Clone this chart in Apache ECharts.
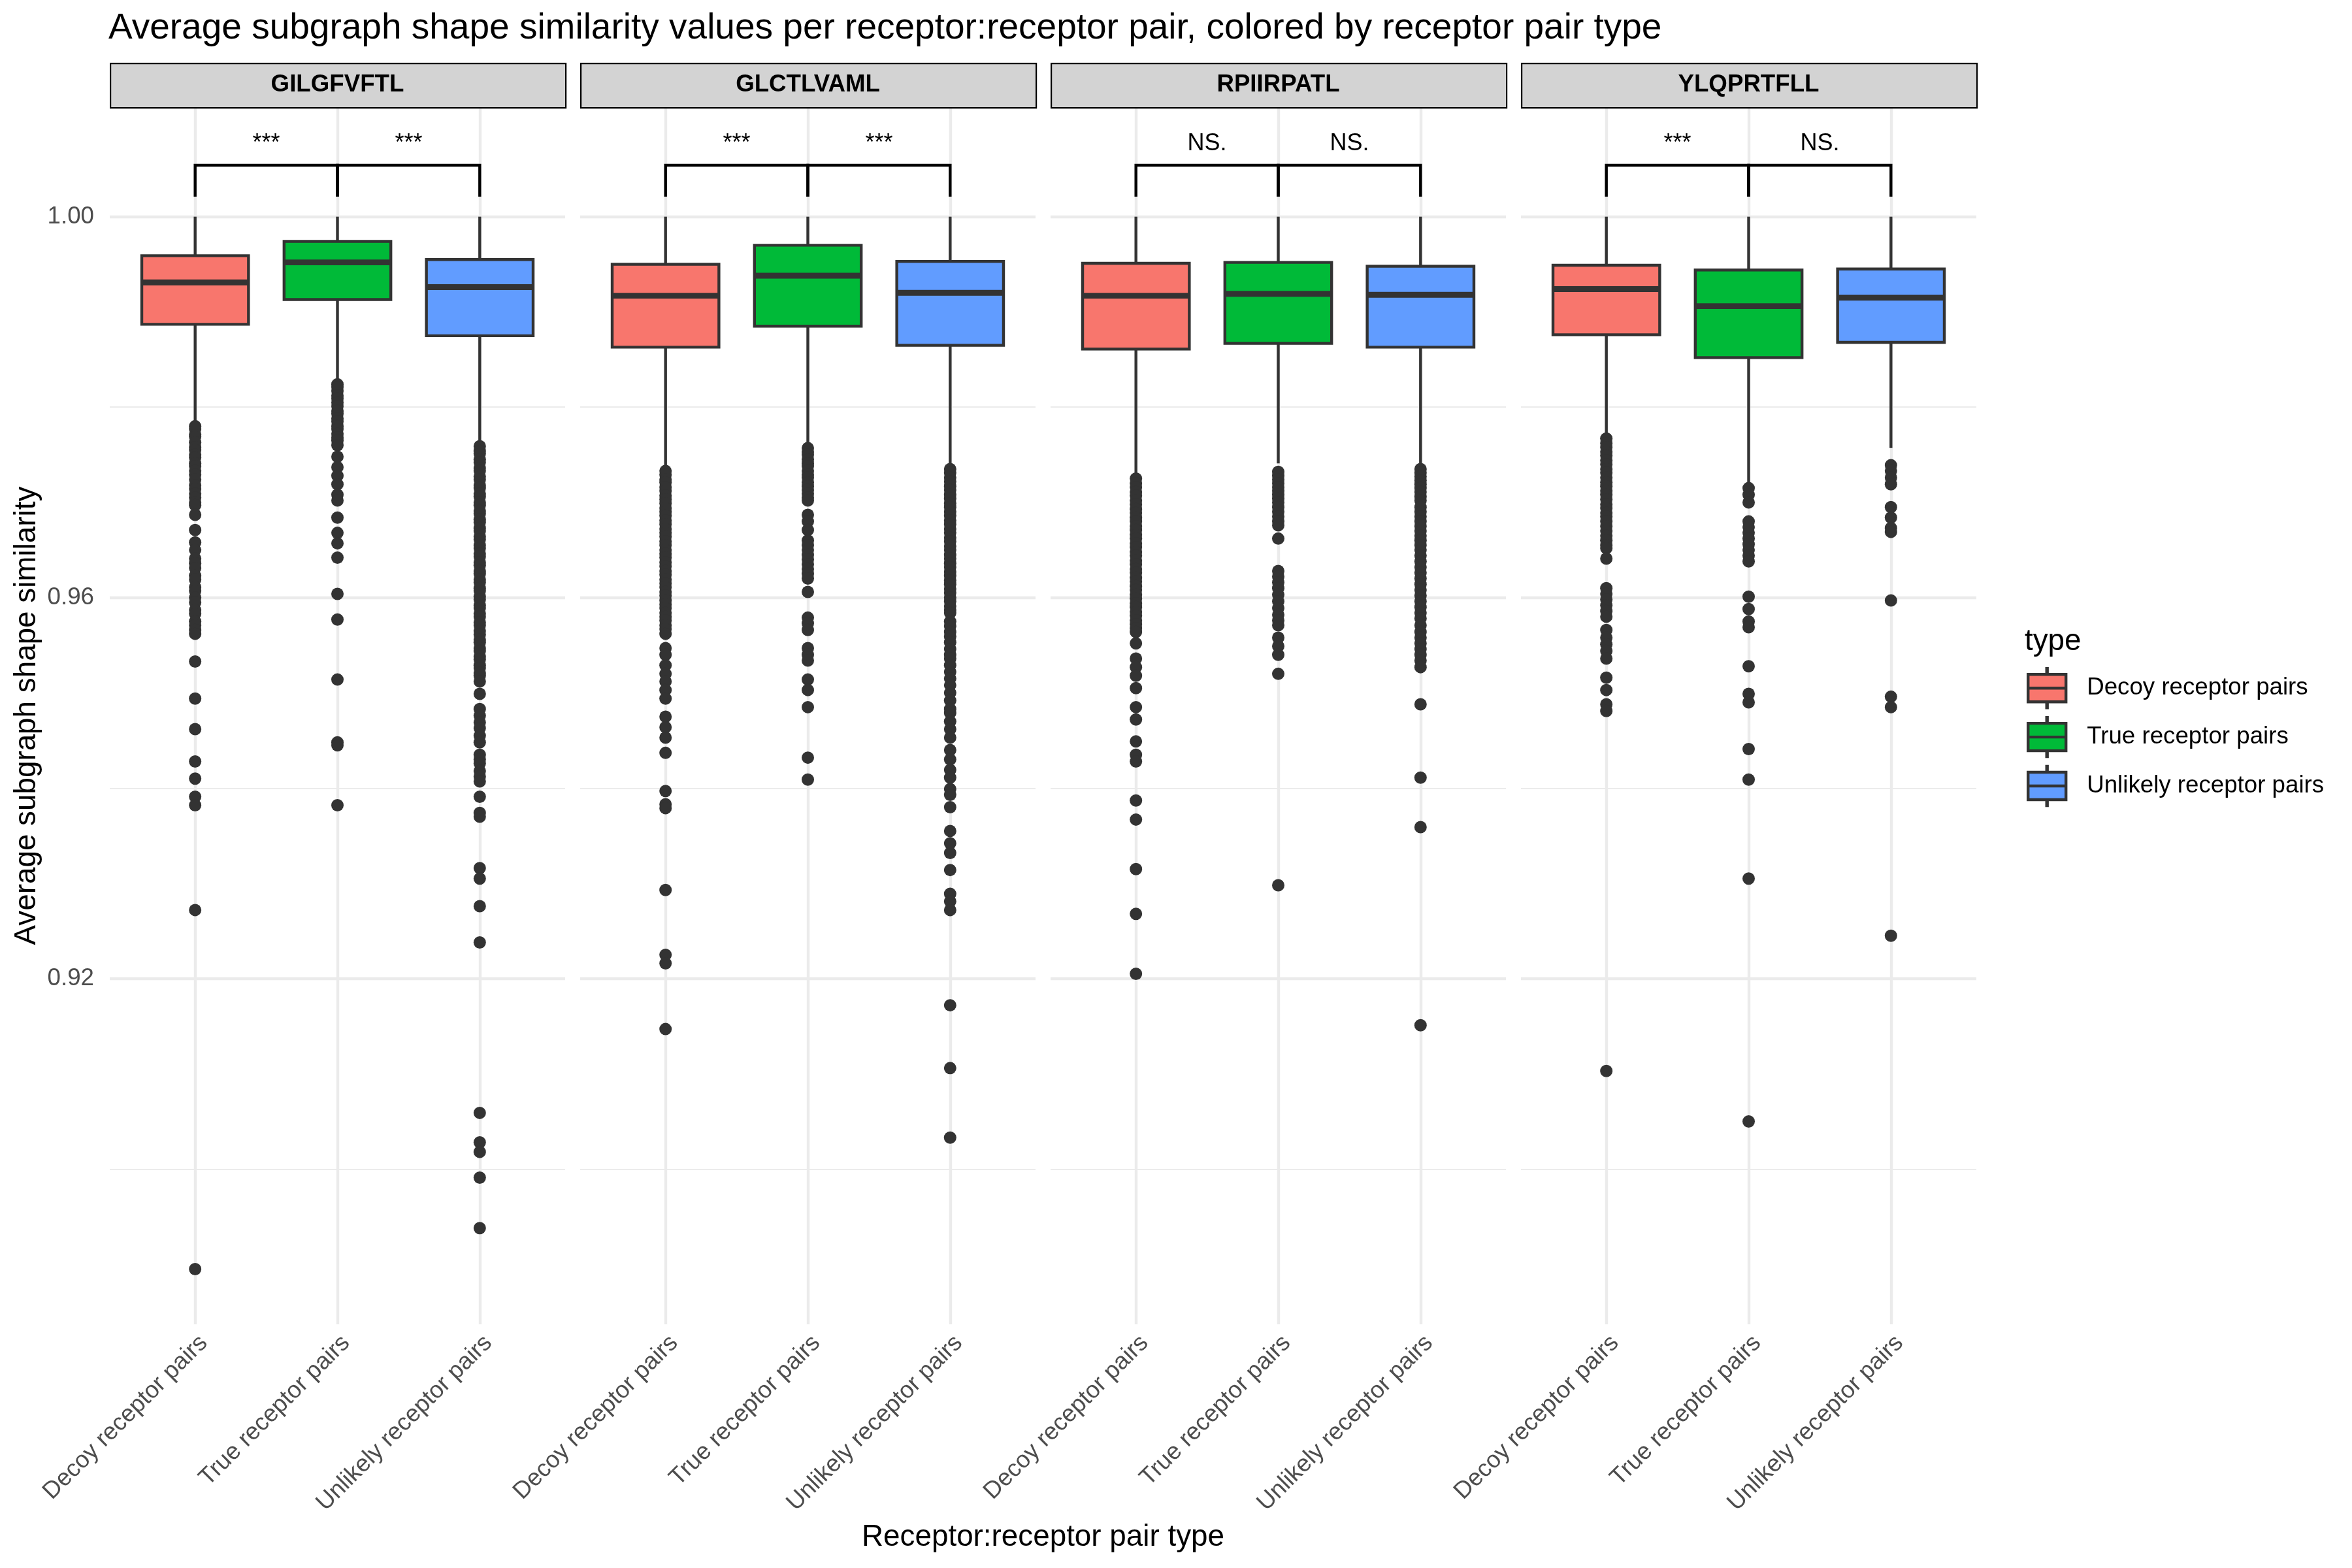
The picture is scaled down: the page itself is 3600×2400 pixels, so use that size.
<!DOCTYPE html>
<html>
<head>
<meta charset="utf-8">
<script src="https://cdn.jsdelivr.net/npm/echarts@6/dist/echarts.min.js"></script>
<style>html,body{margin:0;padding:0;background:#ffffff}#chart{width:3600px;height:2400px}</style>
</head>
<body>
<div id="chart"></div>
<script>
// ---------------- DATA ----------------
const PANELS = ['GILGFVFTL', 'GLCTLVAML', 'RPIIRPATL', 'YLQPRTFLL'];
const TYPES = ['Decoy receptor pairs', 'True receptor pairs', 'Unlikely receptor pairs'];
const Y_TICKS = [0.92, 0.96, 1.00];
const Y_MINOR = [0.90, 0.94, 0.98];

// box stats per type: [lower whisker, Q1, median, Q3, upper whisker]
const BOX_GILGFVFTL = [[0.9785, 0.9887, 0.9931, 0.9959, 1.0], [0.9826, 0.9913, 0.9952, 0.9974, 1.0], [0.9761, 0.9875, 0.9926, 0.9955, 1.0]];
const BOX_GLCTLVAML = [[0.9737, 0.9863, 0.9917, 0.9950, 1.0], [0.9761, 0.9885, 0.9938, 0.9970, 1.0], [0.9738, 0.9865, 0.9920, 0.9953, 1.0]];
const BOX_RPIIRPATL = [[0.9730, 0.9861, 0.9917, 0.9951, 1.0], [0.9741, 0.9867, 0.9919, 0.9952, 1.0], [0.9739, 0.9863, 0.9918, 0.9948, 1.0]];
const BOX_YLQPRTFLL = [[0.9772, 0.9876, 0.9924, 0.9949, 1.0], [0.9719, 0.9852, 0.9906, 0.9944, 1.0], [0.9757, 0.9868, 0.9915, 0.9945, 1.0]];

// outliers
const OUT_GILGFVFTL_DECOY = [0.9780,0.9777,0.9771,0.9769,0.9763,0.9758,0.9755,0.9750,0.9747,0.9741,0.9738,0.9733,0.9729,0.9724,0.9718,0.9714,0.9709,0.9705,0.9700,0.9697,0.9687,0.9671,0.9658,0.9650,0.9641,0.9636,0.9631,0.9623,0.9619,0.9611,0.9607,0.9600,0.9595,0.9587,0.9583,0.9575,0.9571,0.9566,0.9562,0.9533,0.9494,0.9462,0.9428,0.9410,0.9391,0.9382,0.9272,0.8895];
const OUT_GILGFVFTL_TRUE = [0.9824,0.9821,0.9817,0.9812,0.9809,0.9805,0.9801,0.9796,0.9793,0.9788,0.9785,0.9780,0.9777,0.9772,0.9768,0.9765,0.9760,0.9748,0.9737,0.9728,0.9719,0.9708,0.9702,0.9684,0.9668,0.9657,0.9642,0.9604,0.9577,0.9514,0.9448,0.9445,0.9382];
const OUT_GILGFVFTL_UNLIKELY = [0.9759,0.9754,0.9751,0.9745,0.9742,0.9736,0.9733,0.9727,0.9724,0.9718,0.9715,0.9709,0.9706,0.9700,0.9697,0.9691,0.9688,0.9682,0.9679,0.9673,0.9670,0.9664,0.9661,0.9655,0.9652,0.9646,0.9643,0.9637,0.9634,0.9628,0.9625,0.9619,0.9616,0.9610,0.9607,0.9601,0.9598,0.9592,0.9589,0.9583,0.9580,0.9574,0.9571,0.9565,0.9561,0.9556,0.9553,0.9547,0.9544,0.9538,0.9535,0.9529,0.9526,0.9521,0.9518,0.9512,0.9499,0.9483,0.9476,0.9469,0.9463,0.9455,0.9448,0.9435,0.9430,0.9426,0.9418,0.9412,0.9407,0.9391,0.9374,0.9370,0.9316,0.9305,0.9276,0.9238,0.9059,0.9028,0.9018,0.8991,0.8938];

const OUT_GLCTLVAML_DECOY = [0.9733,0.9729,0.9724,0.9721,0.9716,0.9712,0.9707,0.9703,0.9699,0.9694,0.9690,0.9686,0.9681,0.9677,0.9672,0.9668,0.9664,0.9659,0.9655,0.9650,0.9646,0.9642,0.9637,0.9633,0.9628,0.9624,0.9619,0.9615,0.9611,0.9606,0.9602,0.9597,0.9593,0.9589,0.9584,0.9580,0.9576,0.9571,0.9567,0.9562,0.9547,0.9540,0.9529,0.9520,0.9512,0.9503,0.9494,0.9475,0.9464,0.9453,0.9437,0.9397,0.9383,0.9379,0.9293,0.9225,0.9216,0.9147];
const OUT_GLCTLVAML_TRUE = [0.9757,0.9753,0.9750,0.9745,0.9741,0.9738,0.9733,0.9729,0.9726,0.9721,0.9717,0.9713,0.9709,0.9705,0.9702,0.9687,0.9680,0.9671,0.9660,0.9655,0.9650,0.9645,0.9640,0.9635,0.9630,0.9625,0.9620,0.9606,0.9579,0.9573,0.9566,0.9547,0.9540,0.9534,0.9514,0.9503,0.9485,0.9432,0.9409];
const OUT_GLCTLVAML_UNLIKELY = [0.9735,0.9731,0.9726,0.9722,0.9717,0.9713,0.9708,0.9704,0.9699,0.9695,0.9690,0.9686,0.9681,0.9677,0.9672,0.9668,0.9663,0.9659,0.9654,0.9650,0.9645,0.9641,0.9636,0.9632,0.9627,0.9623,0.9618,0.9614,0.9609,0.9605,0.9600,0.9596,0.9591,0.9587,0.9584,0.9575,0.9570,0.9564,0.9559,0.9553,0.9546,0.9540,0.9536,0.9529,0.9522,0.9515,0.9508,0.9500,0.9492,0.9483,0.9479,0.9470,0.9462,0.9453,0.9440,0.9430,0.9419,0.9411,0.9399,0.9393,0.9380,0.9355,0.9342,0.9332,0.9314,0.9289,0.9281,0.9272,0.9172,0.9106,0.9033];

const OUT_RPIIRPATL_DECOY = [0.9725,0.9720,0.9716,0.9711,0.9707,0.9702,0.9698,0.9693,0.9689,0.9684,0.9680,0.9675,0.9671,0.9666,0.9662,0.9657,0.9653,0.9648,0.9644,0.9639,0.9635,0.9630,0.9626,0.9621,0.9617,0.9612,0.9608,0.9603,0.9599,0.9594,0.9590,0.9585,0.9581,0.9576,0.9572,0.9568,0.9564,0.9552,0.9536,0.9527,0.9518,0.9505,0.9485,0.9472,0.9449,0.9435,0.9428,0.9387,0.9367,0.9315,0.9268,0.9205];
const OUT_RPIIRPATL_TRUE = [0.9732,0.9728,0.9724,0.9720,0.9716,0.9712,0.9708,0.9704,0.9700,0.9695,0.9690,0.9685,0.9680,0.9676,0.9662,0.9628,0.9622,0.9616,0.9610,0.9603,0.9596,0.9589,0.9582,0.9576,0.9571,0.9558,0.9549,0.9540,0.9520,0.9298];
const OUT_RPIIRPATL_UNLIKELY = [0.9735,0.9731,0.9727,0.9723,0.9719,0.9715,0.9711,0.9706,0.9702,0.9695,0.9690,0.9685,0.9680,0.9675,0.9670,0.9665,0.9660,0.9655,0.9650,0.9644,0.9638,0.9632,0.9626,0.9620,0.9614,0.9608,0.9602,0.9596,0.9590,0.9584,0.9578,0.9571,0.9564,0.9558,0.9552,0.9546,0.9540,0.9534,0.9527,0.9488,0.9411,0.9359,0.9151];

const OUT_YLQPRTFLL_DECOY = [0.9767,0.9762,0.9758,0.9753,0.9749,0.9744,0.9740,0.9735,0.9731,0.9726,0.9721,0.9717,0.9712,0.9708,0.9703,0.9698,0.9694,0.9689,0.9685,0.9680,0.9675,0.9670,0.9665,0.9660,0.9655,0.9652,0.9641,0.9610,0.9604,0.9598,0.9592,0.9586,0.9580,0.9566,0.9558,0.9551,0.9544,0.9536,0.9516,0.9503,0.9488,0.9481,0.9103];
const OUT_YLQPRTFLL_TRUE = [0.9715,0.9708,0.9700,0.9680,0.9674,0.9668,0.9662,0.9656,0.9650,0.9644,0.9638,0.9601,0.9588,0.9575,0.9569,0.9528,0.9499,0.9490,0.9441,0.9409,0.9305,0.9050];
const OUT_YLQPRTFLL_UNLIKELY = [0.9739,0.9733,0.9726,0.9719,0.9695,0.9684,0.9673,0.9669,0.9597,0.9496,0.9485,0.9245];

// significance labels (Decoy vs True, True vs Unlikely)
const SIG_GILGFVFTL = ['***', '***'];
const SIG_GLCTLVAML = ['***', '***'];
const SIG_RPIIRPATL = ['NS.', 'NS.'];
const SIG_YLQPRTFLL = ['***', 'NS.'];
const SIG_PAIRS = [[1, 2], [2, 3]];
const SIG_BAR_Y = 1.0054;
const SIG_TIP_Y = 1.0021;
const SIG_TEXT_Y = 1.0064;

// ---------------- STYLE / LAYOUT ----------------
const COLORS = ['#F8766D', '#00BA38', '#619CFF'];
const FONT = '"Liberation Sans", Arial, Helvetica, sans-serif';
const Y_MIN = 0.8837, Y_MAX = 1.0115;
const X_MIN = 0.4, X_MAX = 3.6;
const BOX_W = 0.75;
const LAY = { left: 168, w: 697, gap: 23, top: 164, h: 1863, stripTop: 96, stripH: 68 };

const BOXES = [BOX_GILGFVFTL, BOX_GLCTLVAML, BOX_RPIIRPATL, BOX_YLQPRTFLL];
const OUTS = [
  [OUT_GILGFVFTL_DECOY, OUT_GILGFVFTL_TRUE, OUT_GILGFVFTL_UNLIKELY],
  [OUT_GLCTLVAML_DECOY, OUT_GLCTLVAML_TRUE, OUT_GLCTLVAML_UNLIKELY],
  [OUT_RPIIRPATL_DECOY, OUT_RPIIRPATL_TRUE, OUT_RPIIRPATL_UNLIKELY],
  [OUT_YLQPRTFLL_DECOY, OUT_YLQPRTFLL_TRUE, OUT_YLQPRTFLL_UNLIKELY]
];
const SIGS = [SIG_GILGFVFTL, SIG_GLCTLVAML, SIG_RPIIRPATL, SIG_YLQPRTFLL];

const panelLeft = i => LAY.left + i * (LAY.w + LAY.gap);

function renderBox(params, api) {
  const x = api.value(0);
  const lo = api.coord([x, api.value(1)]);
  const q1 = api.coord([x, api.value(2)]);
  const med = api.coord([x, api.value(3)]);
  const q3 = api.coord([x, api.value(4)]);
  const hi = api.coord([x, api.value(5)]);
  const half = api.size([BOX_W, 0])[0] / 2;
  const cx = lo[0];
  const stroke = '#333333';
  return {
    type: 'group',
    children: [
      { type: 'line', shape: { x1: cx, y1: hi[1], x2: cx, y2: q3[1] }, style: { stroke, lineWidth: 4.4 } },
      { type: 'line', shape: { x1: cx, y1: q1[1], x2: cx, y2: lo[1] }, style: { stroke, lineWidth: 4.4 } },
      { type: 'rect', shape: { x: cx - half, y: q3[1], width: 2 * half, height: q1[1] - q3[1] },
        style: { fill: api.visual('color'), stroke, lineWidth: 4.4 } },
      { type: 'line', shape: { x1: cx - half, y1: med[1], x2: cx + half, y2: med[1] }, style: { stroke, lineWidth: 8.9 } }
    ]
  };
}

function makeBracketRenderer(p) {
  return function (params, api) {
    const xa = api.value(0), xb = api.value(1);
    const a0 = api.coord([xa, SIG_TIP_Y]), a1 = api.coord([xa, SIG_BAR_Y]);
    const b1 = api.coord([xb, SIG_BAR_Y]), b0 = api.coord([xb, SIG_TIP_Y]);
    const t = api.coord([(xa + xb) / 2, SIG_TEXT_Y]);
    return {
      type: 'group',
      children: [
        { type: 'polyline', shape: { points: [a0, a1, b1, b0] }, style: { stroke: '#000000', lineWidth: 4.4, fill: null } },
        { type: 'text', x: t[0], y: t[1],
          style: { text: SIGS[p][params.dataIndex], align: 'center', verticalAlign: 'bottom', fontSize: 36, fontFamily: FONT, fill: '#000000' } }
      ]
    };
  };
}

const grids = [], xAxes = [], yAxes = [], series = [], graphics = [];

PANELS.forEach((name, i) => {
  grids.push({ left: panelLeft(i), top: LAY.top, width: LAY.w, height: LAY.h, containLabel: false });
  xAxes.push({
    type: 'value', gridIndex: i, min: X_MIN, max: X_MAX,
    axisLine: { show: false },
    axisTick: { show: false, customValues: [1, 2, 3] },
    axisLabel: {
      show: true, customValues: [1, 2, 3], rotate: 45, margin: 10,
      fontSize: 36.7, color: '#4D4D4D', fontFamily: FONT,
      align: 'right', verticalAlign: 'top',
      formatter: v => TYPES[Math.round(v) - 1] || ''
    },
    splitLine: { show: true, lineStyle: { color: '#EBEBEB', width: 4.4 } }
  });
  yAxes.push({
    type: 'value', gridIndex: i, min: Y_MIN, max: Y_MAX, position: 'left',
    axisLine: { show: false },
    axisTick: { show: false, customValues: Y_TICKS },
    axisLabel: { show: i === 0, customValues: Y_TICKS, formatter: v => v.toFixed(2),
      fontSize: 36.7, color: '#4D4D4D', fontFamily: FONT, margin: 24 },
    splitLine: { show: true, lineStyle: { color: '#EBEBEB', width: 4.4 } }
  });
  yAxes.push({
    type: 'value', gridIndex: i, min: Y_MIN, max: Y_MAX, position: 'right',
    axisLine: { show: false },
    axisTick: { show: false, customValues: Y_MINOR },
    axisLabel: { show: false, customValues: Y_MINOR },
    splitLine: { show: true, lineStyle: { color: '#EBEBEB', width: 2.2 } }
  });

  TYPES.forEach((t, k) => {
    const st = BOXES[i][k];
    series.push({
      type: 'custom', name: t, xAxisIndex: i, yAxisIndex: 2 * i,
      itemStyle: { color: COLORS[k] },
      data: [[k + 1, st[0], st[1], st[2], st[3], st[4]]],
      encode: { x: 0, y: [1, 2, 3, 4, 5] },
      renderItem: renderBox, z: 3, silent: true
    });
    series.push({
      type: 'scatter', name: 'outliers', xAxisIndex: i, yAxisIndex: 2 * i,
      data: OUTS[i][k].map(v => [k + 1, v]),
      symbol: 'circle', symbolSize: 19,
      itemStyle: { color: '#333333', opacity: 1 }, z: 4, silent: true
    });
  });

  series.push({
    type: 'custom', name: 'signif', xAxisIndex: i, yAxisIndex: 2 * i,
    data: SIG_PAIRS.map(pr => [pr[0], pr[1]]),
    encode: { x: [0, 1] },
    renderItem: makeBracketRenderer(i), z: 5, silent: true
  });

  // facet strip
  graphics.push({
    type: 'rect', left: panelLeft(i), top: LAY.stripTop,
    shape: { width: LAY.w, height: LAY.stripH },
    style: { fill: '#D3D3D3', stroke: '#000000', lineWidth: 2.2 }, z: 10
  });
  graphics.push({
    type: 'text', x: panelLeft(i) + LAY.w / 2, y: LAY.stripTop + LAY.stripH / 2,
    style: { text: name, align: 'center', verticalAlign: 'middle', fontSize: 36.7, fontWeight: 'bold', fontFamily: FONT, fill: '#000000' }, z: 11
  });
});

// axis titles and legend title
graphics.push({
  type: 'text', x: 41, y: LAY.top + LAY.h / 2, rotation: Math.PI / 2,
  style: { text: 'Average subgraph shape similarity', align: 'center', verticalAlign: 'middle', fontSize: 45.8, fontFamily: FONT, fill: '#000000' }
});
graphics.push({
  type: 'text', x: LAY.left + (4 * LAY.w + 3 * LAY.gap) / 2, y: 2353,
  style: { text: 'Receptor:receptor pair type', align: 'center', verticalAlign: 'middle', fontSize: 45.8, fontFamily: FONT, fill: '#000000' }
});
graphics.push({
  type: 'text', x: 3099, y: 982,
  style: { text: 'type', align: 'left', verticalAlign: 'middle', fontSize: 45.8, fontFamily: FONT, fill: '#000000' }
});

const chart = echarts.init(document.getElementById('chart'), null, { renderer: 'canvas', width: 3600, height: 2400 });
chart.setOption({
  animation: false,
  backgroundColor: '#ffffff',
  textStyle: { fontFamily: FONT },
  title: {
    text: 'Average subgraph shape similarity values per receptor:receptor pair, colored by receptor pair type',
    left: 166, top: 16, padding: 0,
    textStyle: { fontSize: 55, fontWeight: 'normal', color: '#000000', fontFamily: FONT }
  },
  legend: {
    data: TYPES, orient: 'vertical', left: 3102, top: 1021,
    itemWidth: 58, itemHeight: 60, itemGap: 10.5, padding: 0,
    icon: 'path://M28.5,0L29.5,0L29.5,9L28.5,9Z M0,9L58,9L58,30L0,30Z M0,30L58,30L58,51L0,51Z M28.5,51L29.5,51L29.5,60L28.5,60Z',
    itemStyle: { borderColor: '#333333', borderWidth: 4.4 },
    textStyle: { fontSize: 36.7, color: '#000000', fontFamily: FONT, padding: [0, 0, 0, 27] },
    selectedMode: false
  },
  grid: grids,
  xAxis: xAxes,
  yAxis: yAxes,
  series: series,
  graphic: graphics
});
</script>
</body>
</html>
